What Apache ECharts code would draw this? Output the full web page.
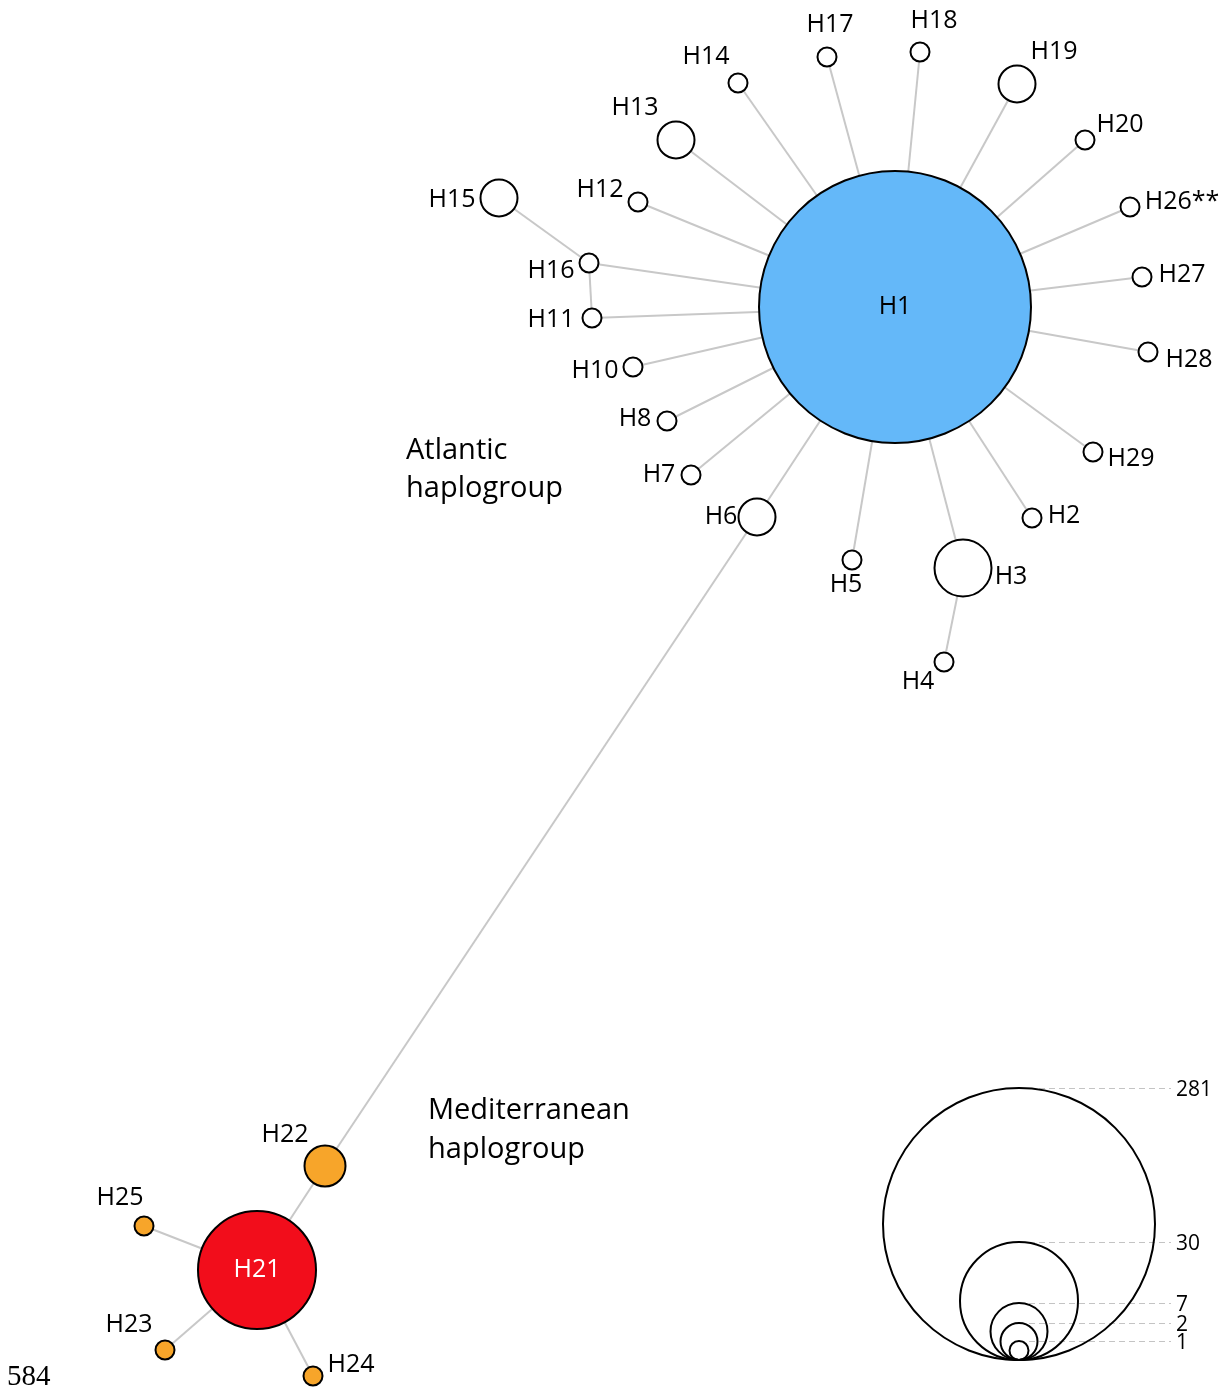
<!DOCTYPE html>
<html>
<head>
<meta charset="utf-8">
<script src="https://cdn.jsdelivr.net/npm/echarts@6/dist/echarts.min.js"></script>
<style>
html,body{margin:0;padding:0;background:#fff;}
#chart{width:1222px;height:1389px;}
</style>
</head>
<body>
<div id="chart"></div>
<script>
// ---- DATA ----
const haplotypes = ['H1','H2','H3','H4','H5','H6','H7','H8','H10','H11','H12','H13','H14','H15','H16','H17','H18','H19','H20','H26**','H27','H28','H29','H21','H22','H23','H24','H25'];
const hapX = [895,1032,963,944,852,757,691,667,633,592,638,676,738,499,589,827,920,1017,1085,1130,1142,1148,1093,257,325,165,313,144];
const hapY = [307,518,568,662,560,517,475,421,367,318,202,140,83,198,263,57,52,84,140,207,277,352,452,1270,1166,1350,1376,1226];
const hapCount = [281,1,7,1,1,2,1,1,1,1,1,2,1,2,1,1,1,2,1,1,1,1,1,30,3,1,1,1];
const hapGroup = ['A1','A','A','A','A','A','A','A','A','A','A','A','A','A','A','A','A','A','A','A','A','A','A','M1','M','M','M','M'];
const links = [
  ['H1','H2'],['H1','H3'],['H3','H4'],['H1','H5'],['H1','H6'],['H1','H7'],['H1','H8'],
  ['H1','H10'],['H1','H11'],['H1','H12'],['H1','H13'],['H1','H14'],['H1','H16'],
  ['H16','H15'],['H16','H11'],['H1','H17'],['H1','H18'],['H1','H19'],['H1','H20'],
  ['H1','H26**'],['H1','H27'],['H1','H28'],['H1','H29'],
  ['H6','H22'],['H22','H21'],['H21','H25'],['H21','H23'],['H21','H24']
];
const legendCounts = [281,30,7,2,1];

// ---- STYLE / LAYOUT ----
const sizeScaleCounts = [1,2,7,30,281];
const sizeScaleDiam = [19,37,57,118,272];
function diam(c){
  for(let i=0;i<sizeScaleCounts.length-1;i++){
    const a=sizeScaleCounts[i], b=sizeScaleCounts[i+1];
    if(c<=b){ const t=(c-a)/(b-a); return sizeScaleDiam[i]+t*(sizeScaleDiam[i+1]-sizeScaleDiam[i]); }
  }
  return sizeScaleDiam[sizeScaleDiam.length-1];
}
const labelOffset = {
  'H1':[0,0],'H2':[32,-2],'H3':[48,9],'H4':[-26,20],'H5':[-6,25],'H6':[-36,0],'H7':[-32,0],
  'H8':[-32,-2],'H10':[-38,4],'H11':[-41,2],'H12':[-38,-12],'H13':[-41,-32],'H14':[-32,-26],
  'H15':[-47,2],'H16':[-38,8],'H17':[3,-32],'H18':[14,-31],'H19':[37,-32],'H20':[35,-15],
  'H26**':[52,-5],'H27':[40,-2],'H28':[41,8],'H29':[38,7],
  'H21':[0,0],'H22':[-40,-31],'H23':[-36,-25],'H24':[38,-11],'H25':[-24,-28]
};
const groupFill = {A1:'#64b8f9', A:'#ffffff', M1:'#f20d1b', M:'#f7a52a'};
const FONT = '"Open Sans", "Noto Sans", sans-serif';

const idx = {}; haplotypes.forEach((h,i)=>idx[h]=i);

const nodeData = haplotypes.map((h,i)=>({
  name: h,
  value: [hapX[i], hapY[i], hapCount[i]],
  symbolSize: diam(hapCount[i]),
  itemStyle: {color: groupFill[hapGroup[i]], borderColor:'#000', borderWidth: 2, opacity: 1},
  label: {
    show: true, formatter: h, position: 'inside', offset: labelOffset[h],
    color: hapGroup[i]==='M1' ? '#ffffff' : '#000000',
    fontSize: 25, fontFamily: FONT, opacity: 1
  }
}));

const linkData = links.map(([a,b])=>({coords:[[hapX[idx[a]],hapY[idx[a]]],[hapX[idx[b]],hapY[idx[b]]]]}));

// legend: nested circles tangent at a common bottom point
const legBaseX = 1019, legBaseY = 1360;
const legendCircles = legendCounts.map(c=>({
  value:[legBaseX, legBaseY - diam(c)/2, c], symbolSize: diam(c)
}));
const legendLines = legendCounts.map(c=>({coords:[[legBaseX, legBaseY-diam(c)], [1171, legBaseY-diam(c)]]}));
const legendLabels = legendCounts.map(c=>({value:[1176, legBaseY-diam(c)+2, c]}));

const chart = echarts.init(document.getElementById('chart'));
chart.setOption({
  animation: false,
  backgroundColor: '#ffffff',
  grid: {left:0, right:0, top:0, bottom:0},
  xAxis: {type:'value', min:0, max:1222, show:false},
  yAxis: {type:'value', min:0, max:1389, inverse:true, show:false},
  series: [
    {
      type:'lines', coordinateSystem:'cartesian2d', silent:true, z:1,
      lineStyle:{color:'#c8c8c8', width:2, opacity:1},
      data: linkData
    },
    {
      type:'scatter', symbol:'circle', z:3, silent:true,
      itemStyle:{opacity:1},
      data: nodeData
    },
    {
      type:'lines', coordinateSystem:'cartesian2d', silent:true, z:1,
      lineStyle:{color:'#c4c4c4', width:1, type:[6,4], opacity:1},
      data: legendLines
    },
    {
      type:'scatter', symbol:'circle', z:2, silent:true,
      itemStyle:{color:'rgba(0,0,0,0)', borderColor:'#000', borderWidth:2, opacity:1},
      data: legendCircles
    },
    {
      type:'scatter', symbolSize:0, z:4, silent:true,
      itemStyle:{opacity:1},
      label:{show:true, position:'right', distance:0, formatter:p=>String(p.value[2]),
             color:'#000', fontSize:21, fontFamily:FONT},
      data: legendLabels
    }
  ],
  graphic: [
    {type:'text', left:406, top:436, style:{text:'Atlantic', font:'29px '+FONT, fill:'#000'}},
    {type:'text', left:406, top:474, style:{text:'haplogroup', font:'29px '+FONT, fill:'#000'}},
    {type:'text', left:428, top:1096, style:{text:'Mediterranean', font:'29px '+FONT, fill:'#000'}},
    {type:'text', left:428, top:1135, style:{text:'haplogroup', font:'29px '+FONT, fill:'#000'}},
    {type:'text', left:7, top:1363, style:{text:'584', font:'29px "Liberation Serif", "Times New Roman", serif', fill:'#000'}}
  ]
});
</script>
</body>
</html>
